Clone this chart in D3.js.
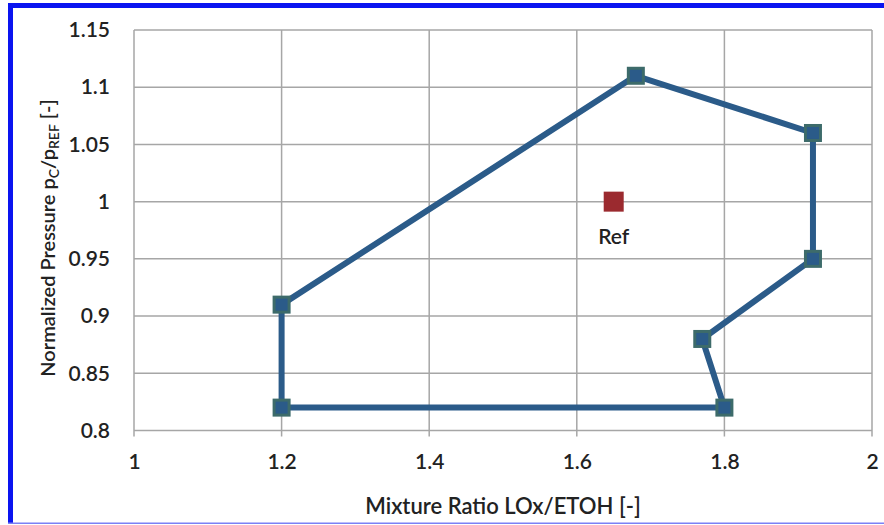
<!DOCTYPE html>
<html lang="en">
<head>
<meta charset="UTF-8">
<script src="https://d3js.org/d3.v7.min.js"></script>
<style>
  body { margin: 0; background: #fff; }
  svg { display: block; font-family: Lato, "Open Sans", sans-serif; }
</style>
</head>
<body>
<svg id="chart"></svg>
<script>
const width = 884, height = 525;
const margin = {top: 30, right: 12, bottom: 94.5, left: 134};

// operating envelope (closed polygon)
const mixtureRatio = [1.68, 1.92, 1.92, 1.77, 1.80, 1.20, 1.20, 1.68];
const pressure     = [1.11, 1.06, 0.95, 0.88, 0.82, 0.82, 0.91, 1.11];
const refPoint = {x: 1.65, y: 1.0, label: "Ref"};
const xTicks = [1, 1.2, 1.4, 1.6, 1.8, 2];
const yTicks = [0.8, 0.85, 0.9, 0.95, 1, 1.05, 1.1, 1.15];

const svg = d3.select("#chart").attr("width", width).attr("height", height);

// blue frame
svg.append("rect").attr("x", 8).attr("y", 3).attr("width", width - 8).attr("height", 5).attr("fill", "#0a14f0");
svg.append("rect").attr("x", 8).attr("y", 3).attr("width", 5).attr("height", 520).attr("fill", "#0a14f0");
svg.append("rect").attr("x", 8).attr("y", 522.5).attr("width", width - 8).attr("height", 1.5).attr("fill", "#7b80f5");

const x = d3.scaleLinear().domain([1, 2]).range([margin.left, width - margin.right]);
const y = d3.scaleLinear().domain([0.8, 1.15]).range([height - margin.bottom, margin.top]);

// grid
const grid = svg.append("g").attr("stroke", "#a6a6a6").attr("stroke-width", 1.5);
xTicks.forEach(t => grid.append("line").attr("x1", x(t)).attr("x2", x(t)).attr("y1", y(1.15)).attr("y2", y(0.8) + 6));
yTicks.forEach(t => grid.append("line").attr("x1", x(1)).attr("x2", x(2)).attr("y1", y(t)).attr("y2", y(t)));

// axes (labels only)
const fmt = d => d3.format("~g")(d);
const labelStyle = g => g.selectAll("text").attr("font-size", 21).attr("font-family", "Lato")
  .attr("font-weight", 600).attr("fill", "#222");
svg.append("g").attr("transform", `translate(0,${y(0.8)})`)
  .call(d3.axisBottom(x).tickValues(xTicks).tickFormat(fmt).tickSize(0).tickPadding(24))
  .call(g => g.select(".domain").remove())
  .call(labelStyle);
svg.append("g").attr("transform", `translate(${x(1)},0)`)
  .call(d3.axisLeft(y).tickValues(yTicks).tickFormat(fmt).tickSize(0).tickPadding(24))
  .call(g => g.select(".domain").remove())
  .call(labelStyle);

// axis titles
svg.append("text").attr("x", (x(1) + x(2)) / 2).attr("y", 514)
  .attr("text-anchor", "middle").attr("font-size", 22).attr("font-weight", 600).attr("fill", "#222")
  .text("Mixture Ratio LOx/ETOH [-]");
const yt = svg.append("text").attr("transform", `translate(55,238) rotate(-90)`)
  .attr("text-anchor", "middle").attr("font-size", 20).attr("font-weight", 600).attr("fill", "#222");
yt.append("tspan").text("Normalized Pressure p");
yt.append("tspan").attr("font-size", 14).attr("dy", 4).text("C");
yt.append("tspan").attr("dy", -4).text("/p");
yt.append("tspan").attr("font-size", 14).attr("dy", 4).text("REF");
yt.append("tspan").attr("dy", -4).text(" [-]");

// envelope line
const pts = mixtureRatio.map((m, i) => [m, pressure[i]]);
const line = d3.line().x(d => x(d[0])).y(d => y(d[1]));
svg.append("path").attr("d", line(pts)).attr("fill", "none")
  .attr("stroke", "#2b5b89").attr("stroke-width", 6).attr("stroke-linejoin", "round");

// markers
svg.append("g").selectAll("rect").data(pts.slice(0, -1)).join("rect")
  .attr("x", d => x(d[0]) - 9).attr("y", d => y(d[1]) - 9)
  .attr("width", 18).attr("height", 18).attr("fill", "#3d6b6a");
svg.append("g").selectAll("rect").data(pts.slice(0, -1)).join("rect")
  .attr("x", d => x(d[0]) - 6).attr("y", d => y(d[1]) - 6)
  .attr("width", 12).attr("height", 12).attr("fill", "#2b5b89");

// reference point
svg.append("rect").attr("x", x(refPoint.x) - 10).attr("y", y(refPoint.y) - 10)
  .attr("width", 20).attr("height", 20).attr("fill", "#9b2a2f");
svg.append("text").attr("x", x(refPoint.x)).attr("y", y(refPoint.y) + 42)
  .attr("text-anchor", "middle").attr("font-size", 21).attr("font-weight", 600).attr("fill", "#222")
  .text(refPoint.label);
</script>
</body>
</html>
